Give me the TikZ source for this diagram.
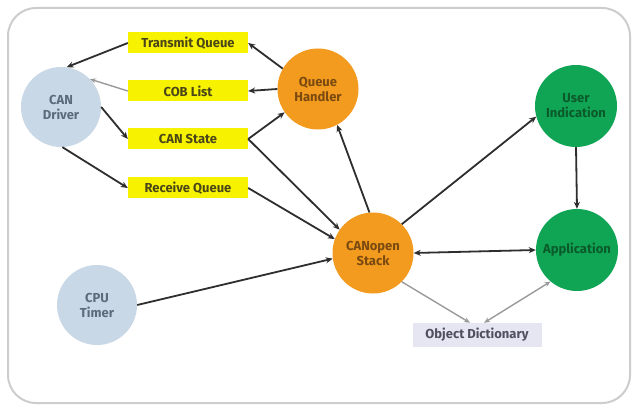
\documentclass[tikz,border=0pt]{standalone}
\usepackage{fontspec}
\setmainfont{Fira Sans}
\usetikzlibrary{arrows.meta}
\definecolor{frameC}{HTML}{CDCDCD}
\definecolor{blueC}{HTML}{C9D8E6}
\definecolor{blueT}{HTML}{5C6B7C}
\definecolor{orangeC}{HTML}{F29B1E}
\definecolor{orangeT}{HTML}{7A4A10}
\definecolor{greenC}{HTML}{10A455}
\definecolor{greenT}{HTML}{0B5A2A}
\definecolor{yellowC}{HTML}{F6F200}
\definecolor{yellowT}{HTML}{4A4618}
\definecolor{odC}{HTML}{E6E6F2}
\definecolor{odT}{HTML}{4E5060}
\definecolor{lineC}{HTML}{2E2E2E}
\definecolor{lightL}{HTML}{9A9A9A}
\tikzset{
  x=1pt, y=-1pt,
  every node/.style={font=\bfseries\fontsize{13}{15}\selectfont, align=center, inner sep=0pt},
  bluecirc/.style={circle, fill=blueC, text=blueT, minimum size=80pt},
  orcirc/.style={circle, fill=orangeC, text=orangeT, minimum size=81pt},
  grcirc/.style={circle, fill=greenC, text=greenT, minimum size=82pt},
  ybox/.style={rectangle, fill=yellowC, text=yellowT, minimum width=120pt, minimum height=21pt},
  odbox/.style={rectangle, fill=odC, text=odT, minimum width=129pt, minimum height=24pt},
  conn/.style={draw=lineC, line width=1.8pt, -{Stealth[length=7pt,width=6pt]}},
  lconn/.style={draw=lightL, line width=1.4pt, -{Stealth[length=6pt,width=5pt]}},
}
\begin{document}
\begin{tikzpicture}
\useasboundingbox (0,0) rectangle (632,406);
\fill[white] (0,0) rectangle (632,406);
\draw[frameC, line width=2pt, rounded corners=28pt] (8,8) rectangle (630,403);

\node[bluecirc] (drv) at (61,107) {CAN\\Driver};
\node[bluecirc] (cpu) at (97,305) {CPU\\Timer};
\node[orcirc] (qh) at (318,89) {Queue\\Handler};
\node[orcirc] (cs) at (373,253) {CANopen\\Stack};
\node[grcirc] (ui) at (576,106) {User\\Indication};
\node[grcirc] (app) at (577,250) {Application};

\node[ybox] (tq) at (188,43) {Transmit Queue};
\node[ybox] (cob) at (188,91) {COB List};
\node[ybox] (st) at (188,139) {CAN State};
\node[ybox] (rq) at (188,188) {Receive Queue};
\node[odbox] (od) at (477,335) {Object Dictionary};

\draw[conn] (tq.west) -- (drv.82);
\draw[conn] (qh.150) -- (tq.east);
\draw[lconn] (cob.west) -- (drv.44);
\draw[conn] (qh.180) -- (cob.east);
\draw[conn] (drv.0) -- (st.west);
\draw[conn] (st.east) -- (qh.215);
\draw[conn] (st.east) -- (cs.145);
\draw[conn] (drv.-88) -- (rq.west);
\draw[conn] (rq.east) -- (cs.160);
\draw[conn] (cs.95) -- (qh.-62);
\draw[conn] (cs.45) -- (ui.195);
\draw[conn] (ui.south) -- (app.north);
\draw[conn] (cpu.east) -- (cs.188);
\draw[draw=lineC, line width=1.8pt, {Stealth[length=7pt,width=6pt]}-{Stealth[length=7pt,width=6pt]}] (cs.east) -- (app.west);
\draw[lconn] (cs.-45) -- (od.120);
\draw[draw=lightL, line width=1.4pt, {Stealth[length=6pt,width=5pt]}-{Stealth[length=6pt,width=5pt]}] (app.-130) -- (od.60);
\end{tikzpicture}
\end{document}
